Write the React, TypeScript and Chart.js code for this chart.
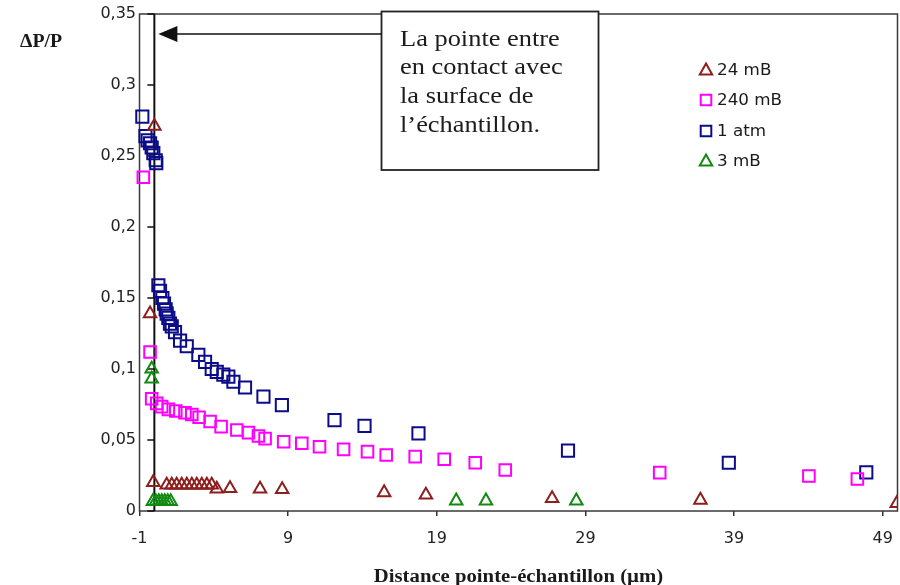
import { useEffect, useRef } from "react";
import { Chart, registerables } from "chart.js";

Chart.register(...registerables);

// Series names (legend order)
const seriesLabels = ["24 mB", "240 mB", "1 atm", "3 mB"];

// Axis ticks
const xTickValues = [-1, 9, 19, 29, 39, 49];
const yTickValues = [0, 0.05, 0.1, 0.15, 0.2, 0.25, 0.3, 0.35];
const yTickLabels = ["0", "0,05", "0,1", "0,15", "0,2", "0,25", "0,3", "0,35"];

// 24 mB
const x24mB = [0.0, -0.29, -0.07, 0.83, 1.17, 1.5, 1.84, 2.18, 2.52, 2.85, 3.19, 3.53, 3.86, 4.2, 5.09, 7.11, 8.6, 15.46, 18.27, 26.76, 36.74, 49.95];
const y24mB = [0.271, 0.139, 0.0202, 0.0183, 0.0183, 0.0183, 0.0183, 0.0183, 0.0183, 0.0183, 0.0183, 0.0183, 0.0183, 0.0155, 0.0159, 0.0155, 0.0152, 0.013, 0.0113, 0.0089, 0.0077, 0.0053];

// 240 mB
const x240mB = [-0.74, -0.29, -0.18, 0.16, 0.49, 0.94, 1.44, 2.06, 2.52, 3.01, 3.75, 4.49, 5.55, 6.33, 7.0, 7.45, 8.7, 9.92, 11.11, 12.73, 14.34, 15.6, 17.55, 19.5, 21.59, 23.61, 34.0, 44.04, 47.3];
const y240mB = [0.235, 0.112, 0.079, 0.0758, 0.0735, 0.0716, 0.0704, 0.0692, 0.068, 0.066, 0.063, 0.0594, 0.057, 0.0552, 0.0528, 0.051, 0.0488, 0.0477, 0.0453, 0.0434, 0.0418, 0.0394, 0.0383, 0.0364, 0.034, 0.0289, 0.027, 0.0246, 0.0225];

// 1 atm
const x1atm = [-0.81, -0.6, -0.45, -0.29, -0.18, -0.07, 0.09, 0.13, 0.27, 0.38, 0.54, 0.65, 0.76, 0.83, 0.94, 1.05, 1.17, 1.39, 1.73, 2.18, 2.96, 3.41, 3.86, 4.2, 4.64, 4.98, 5.32, 6.1, 7.34, 8.58, 12.12, 14.14, 17.77, 27.83, 38.65, 47.9];
const y1atm = [0.2777, 0.264, 0.261, 0.259, 0.256, 0.252, 0.247, 0.245, 0.159, 0.155, 0.15, 0.146, 0.142, 0.139, 0.136, 0.132, 0.13, 0.126, 0.12, 0.116, 0.11, 0.105, 0.1, 0.098, 0.096, 0.0946, 0.091, 0.087, 0.0805, 0.0746, 0.064, 0.0599, 0.0547, 0.0425, 0.034, 0.0272];

// 3 mB
const x3mB = [-0.18, -0.18, -0.1, 0.1, 0.3, 0.5, 0.7, 0.9, 1.1, 20.31, 22.31, 28.39];
const y3mB = [0.1, 0.093, 0.0068, 0.0068, 0.0068, 0.0068, 0.0068, 0.0068, 0.0068, 0.0072, 0.0072, 0.0072];

// Texts
const yAxisTitle = "ΔP/P";
const xAxisTitle = "Distance pointe-échantillon (µm)";
const calloutLines = ["La pointe entre", "en contact avec", "la surface de", "l’échantillon."];

const BROWN = "#8e1f1f";
const MAGENTA = "#ff00ff";
const NAVY = "#0c0c88";
const GREEN = "#128a12";

const seriesStyles = [
  { color: BROWN, shape: "triangle", radius: 7.2 },
  { color: MAGENTA, shape: "rect", radius: 8.2 },
  { color: NAVY, shape: "rect", radius: 8.6 },
  { color: GREEN, shape: "triangle", radius: 7.2 },
];

const toPoints = (xs: number[], ys: number[]) => xs.map((x, i) => ({ x, y: ys[i] }));

function stretchedText(ctx: CanvasRenderingContext2D, text: string, x: number, y: number, sx: number) {
  ctx.save();
  ctx.translate(x, y);
  ctx.scale(sx, 1);
  ctx.fillText(text, 0, 0);
  ctx.restore();
}

const decorations = {
  id: "decorations",
  beforeDatasetsDraw(chart: any) {
    const { ctx, chartArea: a, scales } = chart;
    const x0 = scales.x.getPixelForValue(0);
    ctx.save();
    // plot frame
    ctx.strokeStyle = "#3a3a3a";
    ctx.lineWidth = 1.5;
    ctx.strokeRect(a.left, a.top, a.right - a.left, a.bottom - a.top);
    // value axis crossing at x = 0, tick marks on its left
    ctx.strokeStyle = "#111";
    ctx.lineWidth = 2;
    ctx.beginPath();
    ctx.moveTo(x0, a.top);
    ctx.lineTo(x0, a.bottom);
    ctx.stroke();
    ctx.lineWidth = 1.5;
    ctx.beginPath();
    for (const v of yTickValues) {
      const py = scales.y.getPixelForValue(v);
      ctx.moveTo(x0 - 7, py);
      ctx.lineTo(x0, py);
    }
    ctx.stroke();
    ctx.restore();
  },
  afterDraw(chart: any) {
    const { ctx, chartArea: a, scales } = chart;
    const x0 = scales.x.getPixelForValue(0);
    ctx.save();

    // axis titles
    ctx.fillStyle = "#1a1a1a";
    ctx.textBaseline = "alphabetic";
    ctx.textAlign = "left";
    ctx.font = "bold 18px 'Liberation Serif'";
    stretchedText(ctx, yAxisTitle, 20, 47, 1.1);
    ctx.font = "bold 18.5px 'Liberation Serif'";
    const tw = ctx.measureText(xAxisTitle).width * 1.12;
    stretchedText(ctx, xAxisTitle, (a.left + a.right) / 2 - tw / 2, 582, 1.12);

    // callout box with arrow to the x = 0 axis
    const bx = 381.5, by = 11.5, bw = 217, bh = 158.5;
    ctx.fillStyle = "#fff";
    ctx.fillRect(bx, by, bw, bh);
    ctx.strokeStyle = "#222";
    ctx.lineWidth = 1.8;
    ctx.strokeRect(bx, by, bw, bh);
    ctx.fillStyle = "#1c1c1c";
    ctx.font = "24px 'Liberation Serif'";
    calloutLines.forEach((line, i) => stretchedText(ctx, line, 400, 45.5 + i * 28.7, 1.1));

    const ay = 34;
    const tip = x0 + 4;
    ctx.strokeStyle = "#111";
    ctx.lineWidth = 1.6;
    ctx.beginPath();
    ctx.moveTo(bx, ay);
    ctx.lineTo(tip + 15, ay);
    ctx.stroke();
    ctx.fillStyle = "#111";
    ctx.beginPath();
    ctx.moveTo(tip, ay);
    ctx.lineTo(tip + 19, ay - 8);
    ctx.lineTo(tip + 19, ay + 8);
    ctx.closePath();
    ctx.fill();

    // legend
    const lx = 706;
    const ly = [70, 100, 131, 161];
    seriesStyles.forEach((s, i) => {
      const cy = ly[i];
      ctx.strokeStyle = s.color;
      ctx.lineWidth = 2;
      ctx.beginPath();
      if (s.shape === "triangle") {
        ctx.moveTo(lx, cy - 6.5);
        ctx.lineTo(lx + 6.2, cy + 4.5);
        ctx.lineTo(lx - 6.2, cy + 4.5);
        ctx.closePath();
      } else {
        ctx.rect(lx - 5.3, cy - 5.3, 10.6, 10.6);
      }
      ctx.stroke();
      ctx.fillStyle = "#1a1a1a";
      ctx.font = "15.5px 'DejaVu Sans'";
      ctx.textBaseline = "middle";
      stretchedText(ctx, seriesLabels[i], lx + 11, cy + 1, 1.08);
    });

    ctx.restore();
  },
};

export default function App() {
  const canvasRef = useRef<HTMLCanvasElement>(null);

  useEffect(() => {
    const canvas = canvasRef.current;
    if (!canvas) return;
    const series = [
      toPoints(x24mB, y24mB),
      toPoints(x240mB, y240mB),
      toPoints(x1atm, y1atm),
      toPoints(x3mB, y3mB),
    ];
    const tickFont = { family: "'DejaVu Sans'", size: 16 };
    const chart = new Chart(canvas, {
      type: "scatter",
      data: {
        datasets: series.map((data, i) => ({
          label: seriesLabels[i],
          data,
          pointStyle: seriesStyles[i].shape as any,
          pointRadius: seriesStyles[i].radius,
          pointBorderWidth: 2,
          borderColor: seriesStyles[i].color,
          backgroundColor: "rgba(0,0,0,0)",
          pointBackgroundColor: "rgba(0,0,0,0)",
          clip: { left: false, top: false, right: 0, bottom: false } as any,
        })),
      },
      options: {
        animation: false,
        responsive: false,
        devicePixelRatio: 1,
        events: [],
        layout: { autoPadding: false, padding: { left: 0, top: 14, right: 2.5, bottom: 0 } },
        plugins: {
          legend: { display: false },
          tooltip: { enabled: false },
          title: { display: false },
        },
        scales: {
          x: {
            type: "linear",
            min: -1,
            max: 50,
            afterBuildTicks: (s: any) => {
              s.ticks = xTickValues.map((value) => ({ value }));
            },
            afterFit: (s: any) => {
              s.height = 74;
              s.paddingLeft = 0;
              s.paddingRight = 0;
            },
            grid: { drawOnChartArea: false, drawTicks: true, tickLength: 5, color: "#333", lineWidth: 1.5 },
            border: { display: false },
            ticks: {
              font: tickFont,
              color: "#222",
              padding: 13,
              maxRotation: 0,
              autoSkip: false,
              callback: (v: any) => String(v),
            },
          },
          y: {
            type: "linear",
            min: 0,
            max: 0.35,
            afterBuildTicks: (s: any) => {
              s.ticks = yTickValues.map((value) => ({ value }));
            },
            afterFit: (s: any) => {
              s.width = 139.5;
              s.paddingTop = 0;
              s.paddingBottom = 0;
            },
            grid: { display: false, drawTicks: false },
            border: { display: false },
            ticks: {
              font: tickFont,
              color: "#222",
              padding: 3.5,
              autoSkip: false,
              callback: (_v: any, i: number) => yTickLabels[i],
            },
          },
        },
      },
      plugins: [decorations],
    });
    return () => chart.destroy();
  }, []);

  return (
    <div style={{ position: "fixed", left: 0, top: 0, width: 900, height: 585, background: "#fff" }}>
      <canvas ref={canvasRef} width={900} height={585} style={{ display: "block", width: 900, height: 585 }} />
    </div>
  );
}
